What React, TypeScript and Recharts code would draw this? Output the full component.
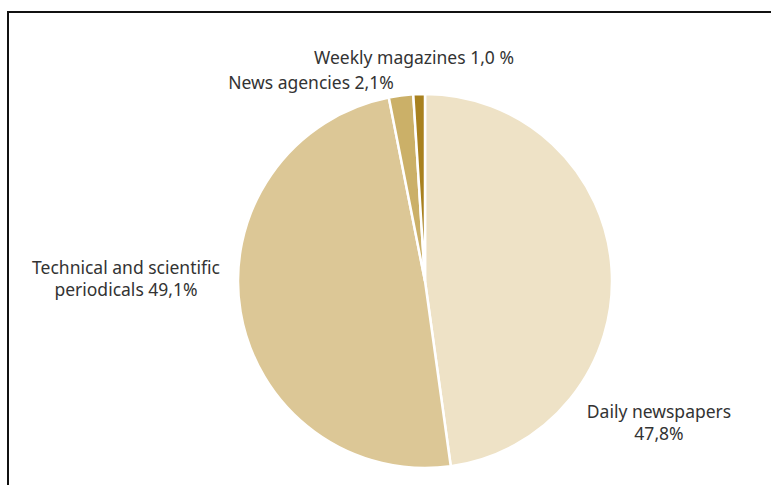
import React from 'react';
import { PieChart, Pie, Cell } from 'recharts';

const CATEGORIES = ['Daily newspapers', 'Technical and scientific periodicals', 'News agencies', 'Weekly magazines'];
const SHARES = [47.8, 49.1, 2.1, 1.0];
const LABEL_LINES = [
  ['Daily newspapers', '47,8%'],
  ['Technical and scientific', 'periodicals 49,1%'],
  ['News agencies 2,1%'],
  ['Weekly magazines 1,0 %'],
];

const COLORS = ['#EEE2C6', '#DCC796', '#CBB068', '#A8811F'];

// label placement relative to the pie centre
const LABEL_OFFSETS = [
  { dx: 234, dy: 131 },
  { dx: -299, dy: -13 },
  { dx: -114, dy: -198 },
  { dx: -11, dy: -223 },
];

const data = CATEGORIES.map((name, i) => ({ name, value: SHARES[i] }));

const renderLabel = (props: any) => {
  const { cx, cy, index } = props;
  const off = LABEL_OFFSETS[index];
  const lines = LABEL_LINES[index];
  return (
    <text
      x={cx + off.dx}
      y={cy + off.dy}
      textAnchor="middle"
      fill="#333"
      fontSize={17.5}
      fontFamily="'Noto Sans', sans-serif"
    >
      {lines.map((l, i) => (
        <tspan key={i} x={cx + off.dx} dy={i === 0 ? '0.35em' : 22}>{l}</tspan>
      ))}
    </text>
  );
};

const App: React.FC = () => {
  return (
    <div style={{ position: 'absolute', left: 0, top: 0, width: 771, height: 485, background: '#fff', overflow: 'hidden' }}>
      <div style={{ position: 'absolute', left: 7, top: 11, width: 800, height: 500, borderLeft: '2px solid #111', borderTop: '2px solid #111' }} />
      <div style={{ position: 'absolute', left: 0, top: 0 }}>
        <PieChart width={771} height={485} margin={{ top: 0, right: 0, bottom: 0, left: 0 }}>
          <Pie
            data={data}
            dataKey="value"
            cx={425}
            cy={281}
            outerRadius={187}
            startAngle={90}
            endAngle={-270}
            stroke="#fff"
            strokeWidth={2.5}
            label={renderLabel}
            labelLine={false}
            isAnimationActive={false}
          >
            {data.map((entry, index) => (
              <Cell key={`cell-${index}`} fill={COLORS[index]} />
            ))}
          </Pie>
        </PieChart>
      </div>
    </div>
  );
};

export default App;
